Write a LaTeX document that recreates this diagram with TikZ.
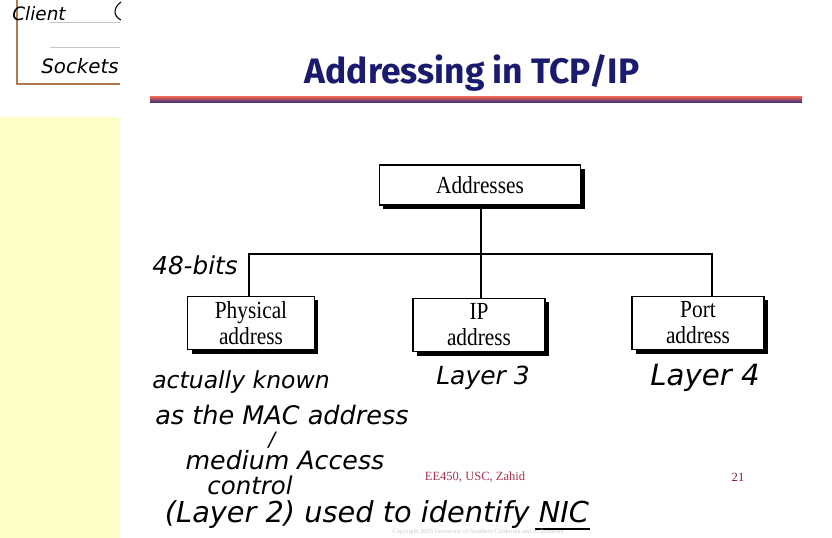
\documentclass[tikz,border=0pt]{standalone}
\usepackage{fontspec}
\setmainfont{Liberation Serif}
\newfontfamily\titlefont{Fira Sans}
\newfontfamily\handfont{DejaVu Sans}
\usetikzlibrary{shadows}
\definecolor{titleblue}{HTML}{1A1A6E}
\definecolor{stripyellow}{HTML}{FFFDC8}
\definecolor{cardbrown}{HTML}{B07A4E}
\definecolor{footred}{HTML}{A8324E}
\definecolor{rulered}{HTML}{D8605A}
\definecolor{ruleblue}{HTML}{2A2A78}
% handwritten notes squeezed to a given width (in px units of 0.75pt)
\newcommand{\hand}[2]{\resizebox{#1}{!}{\handfont\itshape #2}}
% slightly tall box lettering
\newcommand{\tallt}[1]{\scalebox{1}[1.15]{#1}}
\tikzset{
  addrbox/.style={draw=black, line width=0.8pt, fill=white, align=center,
    inner sep=2pt, font=\fontsize{16}{19.5}\selectfont,
    drop shadow={shadow xshift=3pt, shadow yshift=-3pt, fill=black, opacity=1}},
  link/.style={line width=0.9pt},
  note/.style={inner sep=0pt, text=black},
}
\begin{document}
\begin{tikzpicture}[x=0.75pt, y=-0.75pt]
\useasboundingbox (0,0) rectangle (832,538);
\fill[white] (0,0) rectangle (832,538);

% yellow side strip
\fill[stripyellow] (0,117) rectangle (120,538);

% note card at top left
\draw[cardbrown, line width=1.6pt] (17,-2) -- (17,84) -- (120,84);
\draw[gray!45, line width=0.5pt] (50,22) -- (120,22);
\draw[gray!45, line width=0.5pt] (50,47) -- (120,47);
\draw[black, line width=0.8pt] (121,2) .. controls (113,8) and (113,16) .. (121,20);
\node[note] (client) at (39,14) {\hand{40pt}{Client}};
\node[note] (sockets) at (80,66) {\hand{58pt}{Sockets}};

% title and rule
\node[inner sep=0pt, text=titleblue] (title) at (472,73)
  {\resizebox{251pt}{!}{\titlefont\bfseries Addressing in TCP/IP}};
\shade[top color=rulered, bottom color=ruleblue] (150,97) rectangle (802,103);

% hierarchy
\node[addrbox, minimum width=151pt, minimum height=30pt] (addr) at (480,185) {\tallt{Addresses}};
\node[addrbox, minimum width=95pt, minimum height=40pt] (phys) at (251,323) {\tallt{Physical}\\\tallt{address}};
\node[addrbox, minimum width=99pt, minimum height=40pt] (ip) at (479,325) {\tallt{IP}\\\tallt{address}};
\node[addrbox, minimum width=99pt, minimum height=40pt] (port) at (698,323) {\tallt{Port}\\\tallt{address}};

\coordinate (bar) at (481,254);
\draw[link] (addr.south -| bar) -- (ip.north -| bar);
\draw[link] (phys.north -| 249,0) |- (bar) -| (port.north -| 712,0);

% handwritten notes
\node[note] (bits) at (195,265) {\hand{64pt}{48-bits}};
\node[note] (known) at (241,382) {\hand{133pt}{actually known}};
\node[note] (mac) at (282,415) {\hand{190pt}{as the MAC address}};
\node[note] (slash) at (272,440) {\hand{5pt}{/}};
\node[note] (medium) at (285,460) {\hand{149pt}{medium Access}};
\node[note] (control) at (250,485) {\hand{64pt}{control}};
\node[note] (layer2) at (377,515) {\hand{318pt}{(Layer 2) used to identify NIC}};
\draw[line width=1pt] (535,529) -- (590,529);
\node[note] (layer3) at (483,378) {\hand{70pt}{Layer 3}};
\node[note] (layer4) at (705,378) {\hand{82pt}{Layer 4}};

% footer
\node[text=footred, font=\fontsize{9.4}{11}\selectfont] (foot) at (475,477) {EE450, USC, Zahid};
\node[text=footred!70!black, font=\fontsize{9.4}{11}\selectfont] (page) at (738,477) {21};
\node[text=gray!40, inner sep=0pt] (copy) at (478,532)
  {\resizebox{128pt}{!}{\fontsize{4}{5}\selectfont Copyright 2005 University of Southern California and its licensors}};
\end{tikzpicture}
\end{document}
